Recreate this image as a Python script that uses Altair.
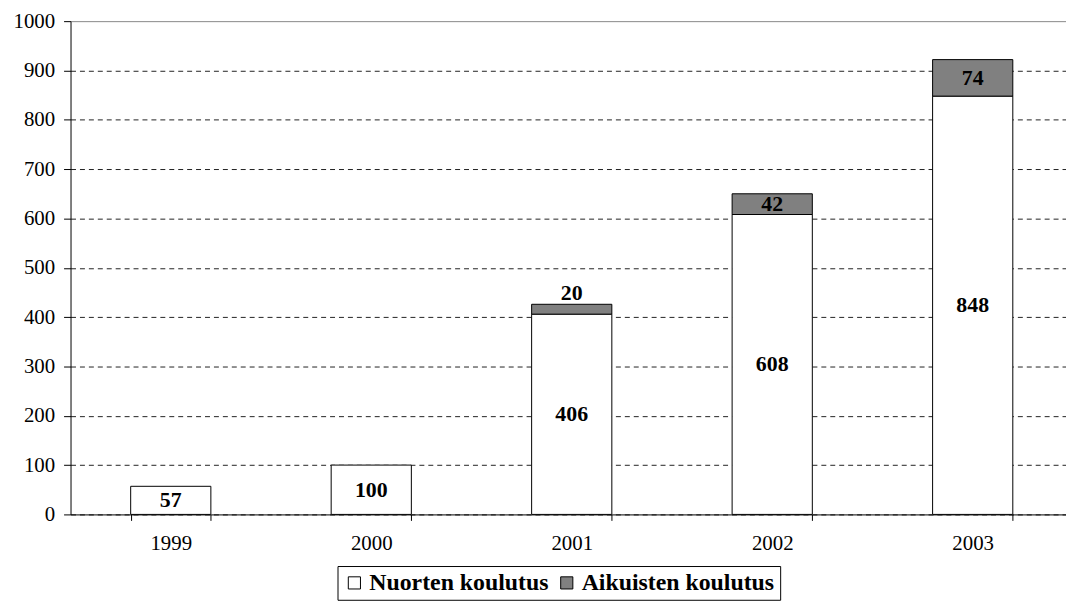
import altair as alt
import pandas as pd

years = ["1999", "2000", "2001", "2002", "2003"]
nuorten = [57, 100, 406, 608, 848]
aikuisten = [0, 0, 20, 42, 74]
series = ["Nuorten koulutus", "Aikuisten koulutus"]
colors = ["#ffffff", "#808080"]
y_ticks = [0, 100, 200, 300, 400, 500, 600, 700, 800, 900, 1000]

rows = []
for i, yr in enumerate(years):
    rows.append({"year": yr, "series": series[0], "value": nuorten[i], "ord": 0})
    if aikuisten[i] > 0:
        rows.append({"year": yr, "series": series[1], "value": aikuisten[i], "ord": 1})
df = pd.DataFrame(rows)

FONT = "Liberation Serif"

base = alt.Chart(df).transform_stack(
    stack="value", groupby=["year"], as_=["y0", "y1"],
    sort=[alt.SortField("ord", order="ascending")]
).transform_calculate(
    mid="(datum.y0 + datum.y1) / 2"
)

x_enc = alt.X(
    "year:N", title=None, sort=years,
    scale=alt.Scale(range=[0, 1010], paddingInner=0.6, paddingOuter=0.3),
    axis=alt.Axis(
        tickBand="extent", ticks=True, tickSize=6, tickColor="black", tickWidth=1,
        domainColor="black", labelFont=FONT, labelFontSize=21,
        labelColor="black", labelPadding=12, grid=False, labelAngle=0,
    ),
)

y_scale = alt.Scale(domain=[0, 1000], nice=False)

bars = base.mark_bar(stroke="black", strokeWidth=1).encode(
    x=x_enc,
    y=alt.Y(
        "y0:Q", title=None, scale=y_scale,
        axis=alt.Axis(
            values=y_ticks, format="d", tickSize=7, tickColor="black", domainColor="black",
            labelFont=FONT, labelFontSize=21, labelColor="black", labelPadding=9,
            grid=True,
            gridDash=alt.condition("datum.value == 1000", alt.value([]), alt.value([5, 4])),
            gridColor=alt.condition("datum.value == 1000", alt.value("#888888"), alt.value("#222222")),
            gridWidth=1,
        ),
    ),
    y2="y1:Q",
    fill=alt.Fill(
        "series:N", sort=series,
        scale=alt.Scale(domain=series, range=colors),
        legend=alt.Legend(
            title=None, orient="none", legendX=269, legendY=549,
            direction="horizontal", columns=2, labelLimit=0,
            labelFont=FONT, labelFontSize=24, labelFontWeight="bold",
            labelColor="black", symbolType="square", symbolSize=150,
            symbolStrokeColor="black", symbolStrokeWidth=1,
            strokeColor="black", padding=5, columnPadding=6, labelOffset=3,
        ),
    ),
    order=alt.Order("ord:Q"),
)

labels_in = base.transform_filter("datum.value >= 30").mark_text(
    font=FONT, fontSize=22, fontWeight="bold", color="black", baseline="middle"
).encode(
    x=alt.X("year:N", sort=years),
    y=alt.Y("mid:Q", scale=y_scale),
    text=alt.Text("value:Q"),
)

labels_out = base.transform_filter("datum.value < 30").mark_text(
    font=FONT, fontSize=22, fontWeight="bold", color="black", baseline="bottom", dy=1
).encode(
    x=alt.X("year:N", sort=years),
    y=alt.Y("y1:Q", scale=y_scale),
    text=alt.Text("value:Q"),
)

chart = alt.layer(bars, labels_in, labels_out).properties(
    width=1003, height=497,
    autosize=alt.AutoSizeParams(type="none"),
    padding={"left": 63, "top": 11, "right": 0, "bottom": 86},
    background="white",
).configure_view(stroke=None)

chart.save("out.html", embed_options={"renderer": "svg", "actions": False})
